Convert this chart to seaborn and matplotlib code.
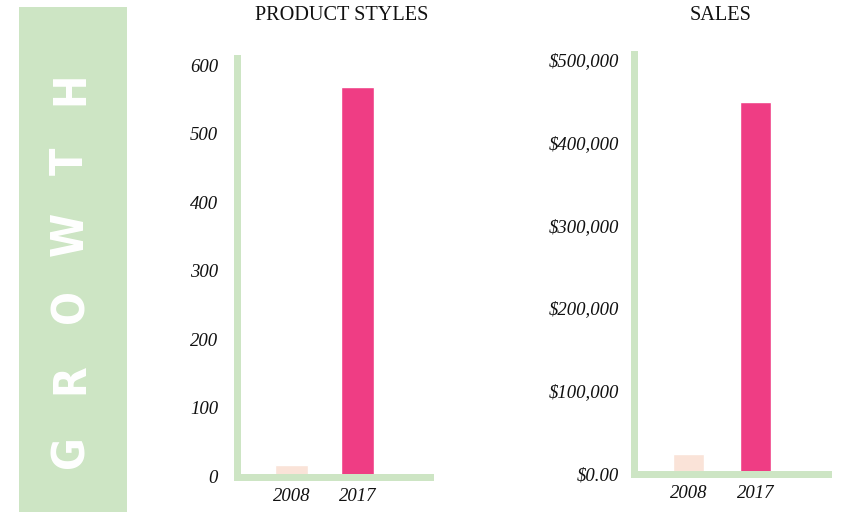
import matplotlib
matplotlib.use("Agg")
import matplotlib.pyplot as plt
import matplotlib.patches as mpatches
from matplotlib.ticker import FuncFormatter
import seaborn as sns

# Data
years = ["2008", "2017"]
product_styles = [17, 568]
sales = [24000, 449000]
style_ticks = [0, 100, 200, 300, 400, 500, 600]
sales_ticks = [0, 100000, 200000, 300000, 400000, 500000]
banner_word = "GROWTH"

GREEN = "#cde5c4"
PINK = "#ef3d84"
PEACH = "#fae3d8"
W, H = 847, 512

sns.set_theme(style="white")
plt.rcParams["font.family"] = ["Liberation Serif", "DejaVu Serif"]

fig = plt.figure(figsize=(W / 100, H / 100), dpi=100)


def frac(x0, y0, x1, y1):
    """Pixel box (top-left origin) to figure fraction rect."""
    return [x0 / W, 1 - y1 / H, (x1 - x0) / W, (y1 - y0) / H]


# Side banner
fig.patches.append(mpatches.Rectangle((19 / W, 0), 108 / W, 1 - 7 / H,
                                      transform=fig.transFigure,
                                      facecolor=GREEN, edgecolor="none", zorder=0))
letter_y = [452, 379, 306, 234, 161, 88]
for ch, yc in zip(banner_word, letter_y):
    fig.text(70.5 / W, 1 - yc / H, ch, rotation=90, ha="center", va="center",
             color="white", fontsize=32, fontweight="bold",
             fontstretch="condensed",
             family=["Liberation Sans Narrow", "DejaVu Sans"])


def style_axes(ax, pad_y):
    for side in ("top", "right"):
        ax.spines[side].set_visible(False)
    for side in ("left", "bottom"):
        sp = ax.spines[side]
        sp.set_color(GREEN)
        sp.set_linewidth(5.04)
        sp.set_capstyle("projecting")
        sp.set_zorder(5)
    ax.tick_params(axis="both", length=0)
    ax.tick_params(axis="y", pad=pad_y)
    ax.tick_params(axis="x", pad=8)
    for lab in ax.get_yticklabels() + ax.get_xticklabels():
        lab.set_fontstyle("italic")
        lab.set_fontsize(13.5)
        lab.set_color("#111111")
    ax.set_xlabel("")
    ax.set_ylabel("")
    ax.set_facecolor("none")


# Product styles
ax1 = fig.add_axes(frac(236.5, 58.5, 429.5, 476.5))
sns.barplot(x=years, y=product_styles, hue=years, palette=[PEACH, PINK],
            width=0.5, saturation=1, legend=False, ax=ax1, zorder=2)
ax1.set_xlim(-0.833, 2.09)
ax1.set_ylim(0, 609.5)
ax1.set_yticks(style_ticks)
ax1.set_yticklabels([str(t) for t in style_ticks])
style_axes(ax1, 13.3)

# Sales
ax2 = fig.add_axes(frac(634, 54.5, 827.5, 473.5))
sns.barplot(x=years, y=sales, hue=years, palette=[PEACH, PINK],
            width=0.46, saturation=1, legend=False, ax=ax2, zorder=2)
ax2.set_xlim(-0.813, 2.075)
ax2.set_ylim(0, 506600)
ax2.set_yticks(sales_ticks)
ax2.yaxis.set_major_formatter(
    FuncFormatter(lambda v, _: "$0.00" if v == 0 else f"${v:,.0f}"))
style_axes(ax2, 10.8)

# Titles
fig.text(341.5 / W, 1 - 16 / H, "PRODUCT STYLES", ha="center", va="center",
         fontsize=14.6, color="#111111")
fig.text(721 / W, 1 - 15 / H, "SALES", ha="center", va="center",
         fontsize=14.6, color="#111111")

fig.savefig("out.png", dpi=100, facecolor="white")
